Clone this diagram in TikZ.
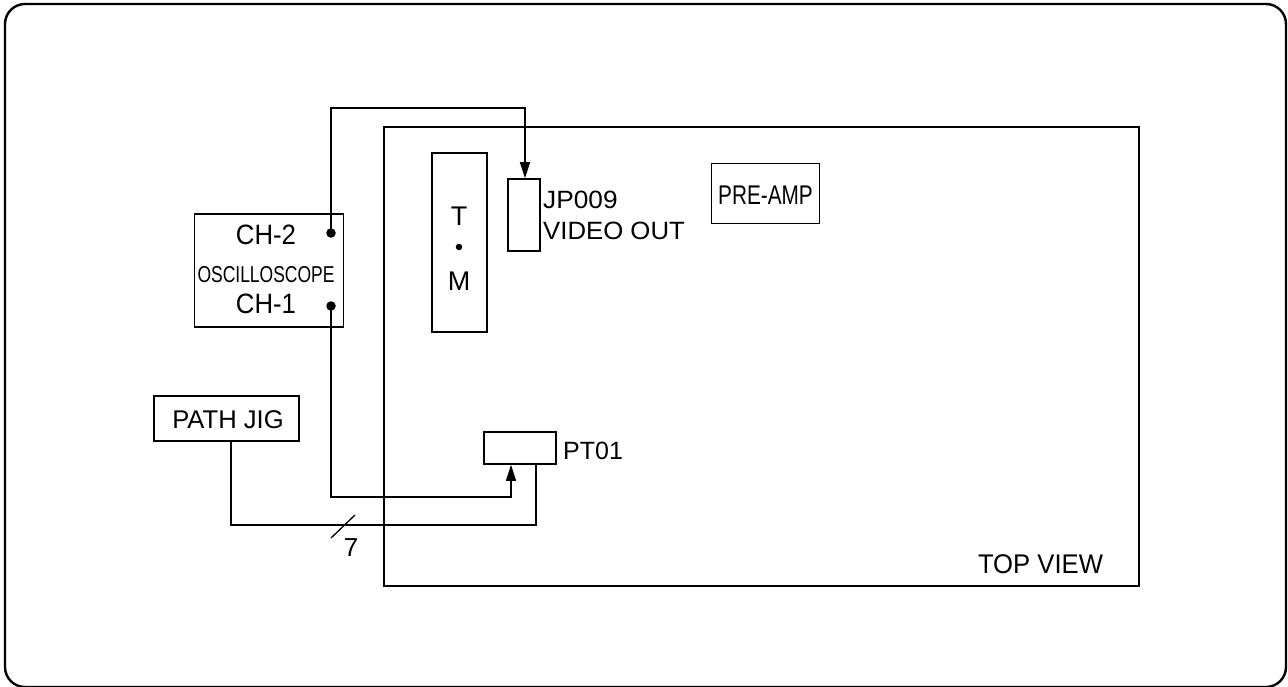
\documentclass[tikz,border=0pt]{standalone}
\usepackage{fontspec}
\setmainfont{Liberation Sans}
\usetikzlibrary{arrows.meta}
\newcommand\wt[2][1]{\scalebox{#1}[1]{#2}}
\newcommand\fs[1]{\fontsize{#1}{#1}\selectfont}
\tikzset{
  thin line/.style={line width=1.6pt},
  box/.style={draw, line width=1.6pt, rectangle, inner sep=0pt},
  lbl/.style={inner sep=0pt, font=\fs{25}},
  dot/.style={circle, fill=black, inner sep=0pt, minimum size=9.5pt},
  arr/.style={line width=1.6pt, -{Triangle[length=16pt,width=10pt]}},
}
\begin{document}
\begin{tikzpicture}[x=1pt,y=-1pt]
\useasboundingbox (0,0) rectangle (1288,686);
% outer frame
\node[draw, line width=2.4pt, rounded corners=20pt, inner sep=0pt, minimum width=1281pt, minimum height=683pt] (frame) at (645.5,345.5) {};
% board
\node[draw, line width=2.6pt, inner sep=0pt, minimum width=755pt, minimum height=459pt] (board) at (761.5,356.5) {};
% oscilloscope
\node[box, minimum width=149pt, minimum height=113pt] (osc) at (269,270.5) {};
\node[lbl, anchor=base, font=\fs{28}] (ch2t) at (266,244) {\wt[0.92]{CH-2}};
\node[lbl, anchor=base, font=\fs{23}] (osct) at (266,282) {\wt[0.76]{OSCILLOSCOPE}};
\node[lbl, anchor=base, font=\fs{28}] (ch1t) at (266,313) {\wt[0.92]{CH-1}};
\node[dot] (ch2) at (331,233) {};
\node[dot] (ch1) at (331,306) {};
% T.M
\node[box, minimum width=55pt, minimum height=179pt] (tm) at (459.5,242.5) {};
\node[lbl, anchor=base, font=\fs{27}] (tt) at (459,225) {T};
\node[dot, minimum size=6.5pt] (tmdot) at (459,247) {};
\node[lbl, anchor=base, font=\fs{27}] (mt) at (459,290) {M};
% JP009
\node[box, minimum width=32pt, minimum height=72pt] (jp) at (524,215) {};
\node[lbl, anchor=base west, font=\fs{25}] (jpt) at (543,208) {\wt[1.05]{JP009}};
\node[lbl, anchor=base west, font=\fs{25}] (vid) at (543,239) {\wt[1.03]{VIDEO OUT}};
% PRE-AMP
\node[box, minimum width=108pt, minimum height=60pt] (pre) at (765.5,193.5) {};
\node[lbl, anchor=base, font=\fs{27}] (pret) at (765.5,204) {\wt[0.77]{PRE-AMP}};
% PATH JIG
\node[box, minimum width=145pt, minimum height=45pt] (jig) at (226.5,418.5) {};
\node[lbl, anchor=base, font=\fs{25.6}] (jigt) at (228,428) {PATH JIG};
% PT01
\node[box, minimum width=72pt, minimum height=32pt] (pt) at (520,448) {};
\node[lbl, anchor=base west, font=\fs{25}] (ptt) at (563,459) {PT01};
% TOP VIEW
\node[lbl, anchor=base, font=\fs{27}] (topv) at (1040.5,573) {\wt[0.95]{TOP VIEW}};
% connectors
\coordinate (c2top) at (331,108);
\draw[arr] (ch2.center) -- (c2top) -| ([xshift=1pt]jp.north);
\coordinate (c1bot) at (511,497);
\draw[arr] (ch1.center) |- (c1bot) -- ([xshift=-9pt]pt.south);
\coordinate (jbot) at (536,525);
\draw[thin line] ([xshift=4.5pt]jig.south) |- (jbot) -- ([xshift=16pt]pt.south);
% bus slash
\coordinate (s1) at (331,538);
\coordinate (s2) at (355,515);
\draw[line width=1.3pt] (s1) -- (s2);
\node[lbl, anchor=base, font=\fs{26}] (seven) at (351,556) {7};
\end{tikzpicture}
\end{document}
